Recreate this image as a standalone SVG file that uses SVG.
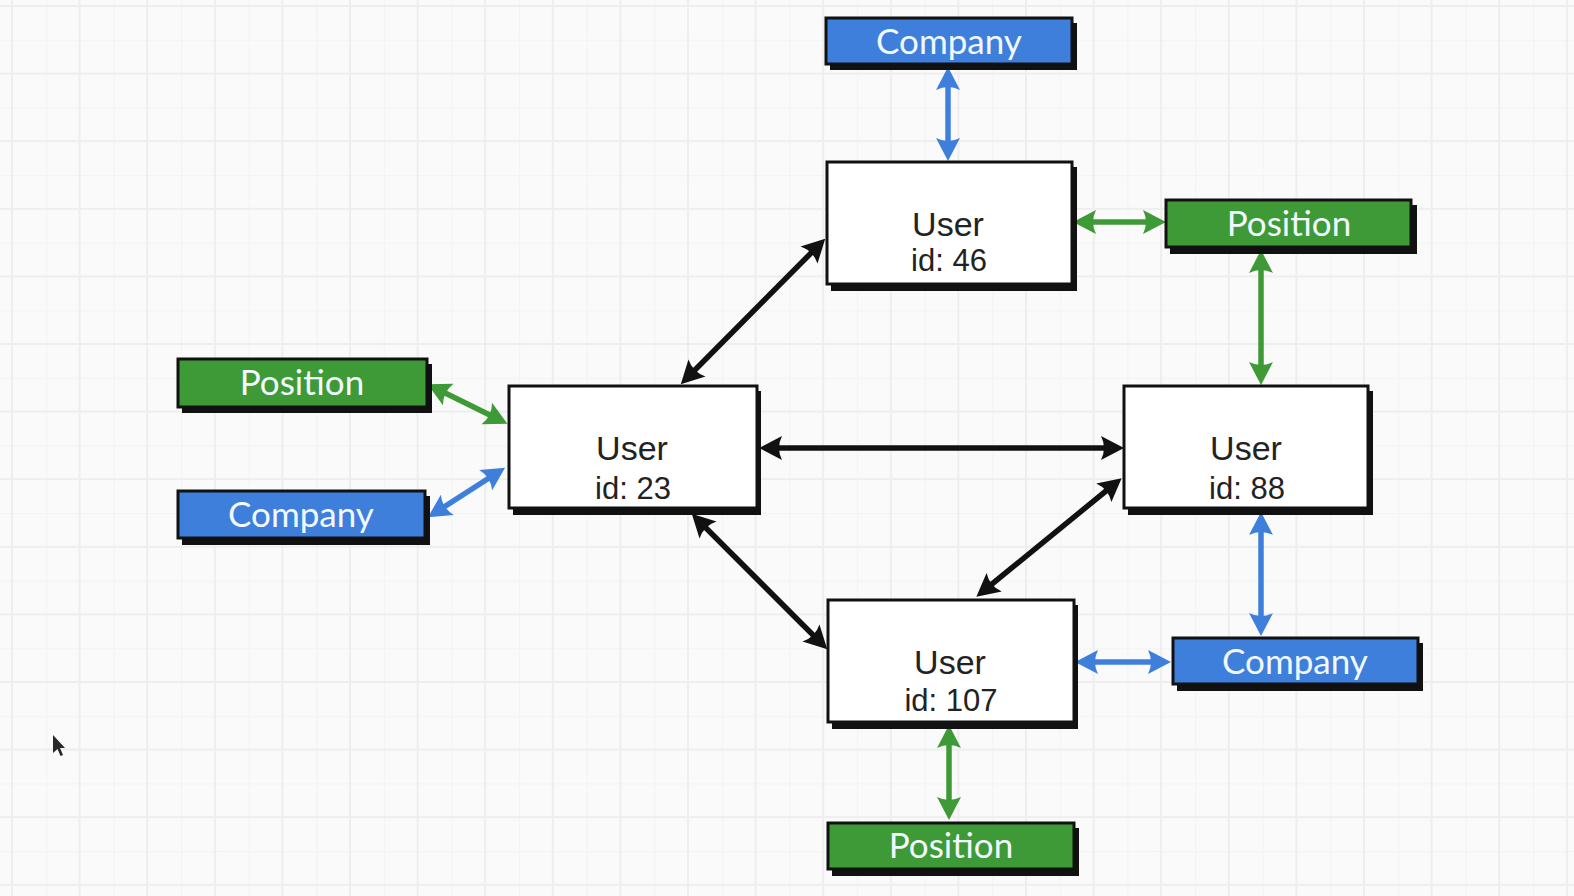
<svg xmlns="http://www.w3.org/2000/svg" width="1574" height="896" viewBox="0 0 1574 896">
  <defs>
    <!-- faint paper grid: major lines every 67.6px, minor halfway -->
    <pattern id="grid" patternUnits="userSpaceOnUse" x="-21.8" y="-27.8" width="67.6" height="67.6">
      <rect x="0" y="0" width="1.2" height="67.6" fill="#f4f4f4"/>
      <rect x="0" y="0" width="67.6" height="1.2" fill="#f4f4f4"/>
      <rect x="32.8" y="0" width="2" height="67.6" fill="#eeeeee"/>
      <rect x="0" y="32.8" width="67.6" height="2" fill="#eeeeee"/>
    </pattern>
    <marker id="ah-black" markerUnits="userSpaceOnUse" viewBox="-22 -14 30 28" markerWidth="30" markerHeight="28" refX="0" refY="0" orient="auto-start-reverse" overflow="visible">
      <path d="M6,0 L-17,-12 Q-11,0 -17,12 Z" fill="#111"/>
    </marker>
    <marker id="ah-blue" markerUnits="userSpaceOnUse" viewBox="-22 -14 30 28" markerWidth="30" markerHeight="28" refX="0" refY="0" orient="auto-start-reverse" overflow="visible">
      <path d="M6,0 L-17,-12 Q-11,0 -17,12 Z" fill="#3f7fdc"/>
    </marker>
    <marker id="ah-green" markerUnits="userSpaceOnUse" viewBox="-22 -14 30 28" markerWidth="30" markerHeight="28" refX="0" refY="0" orient="auto-start-reverse" overflow="visible">
      <path d="M6,0 L-17,-12 Q-11,0 -17,12 Z" fill="#3e9a36"/>
    </marker>
    <style>
      .shadow { fill: #111; }
      .user { fill: #ffffff; stroke: #111; stroke-width: 3; }
      .company { fill: #3f7fdc; stroke: #111; stroke-width: 3; }
      .position { fill: #3e9a36; stroke: #111; stroke-width: 3; }
      .tag { font-family: Lato, "Open Sans", sans-serif; font-size: 35px; fill: #f2f8ff; text-anchor: middle; }
      .title { font-family: "Liberation Sans", Arial, sans-serif; font-size: 34px; fill: #222; text-anchor: middle; }
      .sub { font-family: "Liberation Sans", Arial, sans-serif; font-size: 31px; fill: #222; text-anchor: middle; }
      .link { fill: none; stroke-width: 5.5; }
      .black { stroke: #111; marker-start: url(#ah-black); marker-end: url(#ah-black); }
      .blue { stroke: #3f7fdc; marker-start: url(#ah-blue); marker-end: url(#ah-blue); }
      .green { stroke: #3e9a36; marker-start: url(#ah-green); marker-end: url(#ah-green); }
    </style>
  </defs>

  <rect width="1574" height="896" fill="#fafafa"/>
  <rect width="1574" height="896" fill="url(#grid)"/>

  <g id="connectors">
    <line class="link blue" x1="948" y1="73" x2="948" y2="155"/>
    <line class="link green" x1="1079" y1="222" x2="1160" y2="222"/>
    <line class="link green" x1="1261" y1="256" x2="1261" y2="379"/>
    <line class="link black" x1="821" y1="243" x2="685" y2="380"/>
    <line class="link green" x1="433" y1="387" x2="502" y2="421"/>
    <line class="link blue" x1="433" y1="514" x2="500" y2="471"/>
    <line class="link black" x1="765" y1="448" x2="1118" y2="448"/>
    <line class="link black" x1="696" y1="518" x2="823" y2="645"/>
    <line class="link black" x1="1117" y1="482" x2="981" y2="593"/>
    <line class="link blue" x1="1261" y1="518" x2="1261" y2="630"/>
    <line class="link blue" x1="1081" y1="662" x2="1165" y2="662"/>
    <line class="link green" x1="949" y1="731" x2="949" y2="814"/>
  </g>

  <g id="company-top">
    <rect class="shadow" x="830" y="23" width="247" height="47"/>
    <rect class="company" x="826" y="18" width="246" height="46"/>
    <text class="tag" x="949" y="54">Company</text>
  </g>

  <g id="user-46">
    <rect class="shadow" x="831" y="167" width="246" height="124"/>
    <rect class="user" x="827" y="162" width="245" height="122"/>
    <text class="title" x="948" y="236">User</text>
    <text class="sub" x="949" y="271">id: 46</text>
  </g>

  <g id="position-top-right">
    <rect class="shadow" x="1170" y="205" width="247" height="49"/>
    <rect class="position" x="1166" y="200" width="245" height="47"/>
    <text class="tag" x="1289" y="236">Position</text>
  </g>

  <g id="position-left">
    <rect class="shadow" x="182" y="364" width="250" height="49"/>
    <rect class="position" x="178" y="359" width="249" height="48"/>
    <text class="tag" x="302" y="395">Position</text>
  </g>

  <g id="company-left">
    <rect class="shadow" x="182" y="496" width="248" height="49"/>
    <rect class="company" x="178" y="491" width="247" height="47"/>
    <text class="tag" x="301" y="527">Company</text>
  </g>

  <g id="user-23">
    <rect class="shadow" x="513" y="391" width="248" height="124"/>
    <rect class="user" x="509" y="386" width="248" height="122"/>
    <text class="title" x="632" y="460">User</text>
    <text class="sub" x="633" y="499">id: 23</text>
  </g>

  <g id="user-88">
    <rect class="shadow" x="1128" y="391" width="245" height="124"/>
    <rect class="user" x="1124" y="386" width="244" height="122"/>
    <text class="title" x="1246" y="460">User</text>
    <text class="sub" x="1247" y="499">id: 88</text>
  </g>

  <g id="user-107">
    <rect class="shadow" x="832" y="605" width="246" height="124"/>
    <rect class="user" x="828" y="600" width="246" height="122"/>
    <text class="title" x="950" y="674">User</text>
    <text class="sub" x="951" y="711">id: 107</text>
  </g>

  <g id="company-bottom-right">
    <rect class="shadow" x="1177" y="643" width="246" height="48"/>
    <rect class="company" x="1173" y="638" width="245" height="46"/>
    <text class="tag" x="1295" y="674">Company</text>
  </g>

  <g id="position-bottom">
    <rect class="shadow" x="832" y="828" width="247" height="48"/>
    <rect class="position" x="828" y="823" width="246" height="46"/>
    <text class="tag" x="951" y="858">Position</text>
  </g>

  <!-- mouse pointer -->
  <path d="M53,735 L53,753 L57.5,749 L60.5,756 L63,755 L60,748 L65,748 Z" fill="#111" opacity="0.9"/>
</svg>
